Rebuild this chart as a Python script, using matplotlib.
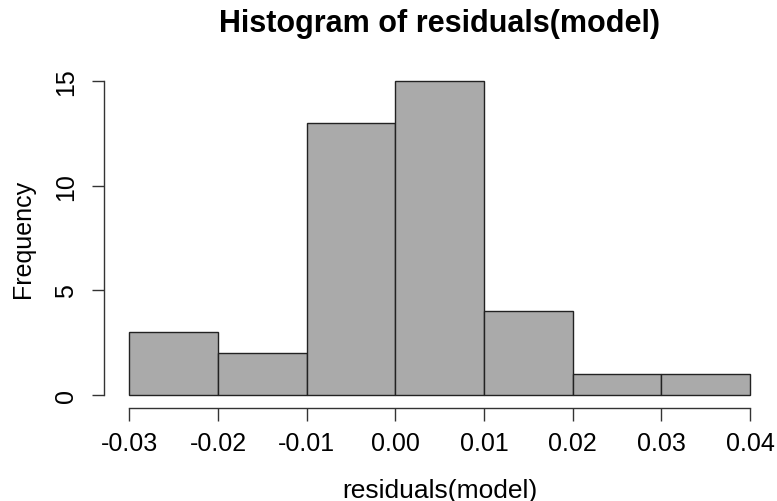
import matplotlib
matplotlib.use("Agg")
import matplotlib.pyplot as plt
import numpy as np

plt.rcParams['font.family'] = ['Liberation Sans', 'DejaVu Sans']

# residual histogram: bin edges and counts per bin
bin_edges = [-0.03, -0.02, -0.01, 0.00, 0.01, 0.02, 0.03, 0.04]
counts = [3, 2, 13, 15, 4, 1, 1]
x_ticks = [-0.03, -0.02, -0.01, 0.00, 0.01, 0.02, 0.03, 0.04]
x_ticklabels = ["-0.03", "-0.02", "-0.01", "0.00", "0.01", "0.02", "0.03", "0.04"]
y_ticks = [0, 5, 10, 15]

fig = plt.figure(figsize=(7.77, 5.02), dpi=100)
W, H = 777, 502
left, right, bottom, top = 104.5, 774.8, 408.7, 69.4
ax = fig.add_axes([left / W, 1 - bottom / H, (right - left) / W, (bottom - top) / H])

edges = np.array(bin_edges)
ax.bar(edges[:-1], counts, width=np.diff(edges), align='edge',
       color='#aaaaaa', edgecolor='#222222', linewidth=1.0)

# R-style 4% padding around the data range
xr = edges[-1] - edges[0]
ax.set_xlim(edges[0] - 0.04 * xr, edges[-1] + 0.04 * xr)
ax.set_ylim(0 - 0.04 * 15, 15 + 0.04 * 15)

for s in ['top', 'right']:
    ax.spines[s].set_visible(False)
ax.spines['left'].set_bounds(0, 15)
ax.spines['bottom'].set_bounds(edges[0], edges[-1])
for s in ['left', 'bottom']:
    ax.spines[s].set_linewidth(1.0)
    ax.spines[s].set_color('#333333')

ax.set_xticks(x_ticks)
ax.set_xticklabels(x_ticklabels)
ax.set_yticks(y_ticks)
ax.set_yticklabels([str(v) for v in y_ticks], rotation=90, va='center')
ax.tick_params(axis='both', length=9, width=1.0, color='#333333',
               labelsize=18, pad=8)
ax.tick_params(axis='y', pad=10)

ax.set_xlabel("residuals(model)", fontsize=19, labelpad=16)
ax.set_ylabel("Frequency", fontsize=18, labelpad=14)
ax.set_title("Histogram of residuals(model)", fontsize=22, fontweight='bold', pad=27)

fig.savefig("out.png", dpi=100)
